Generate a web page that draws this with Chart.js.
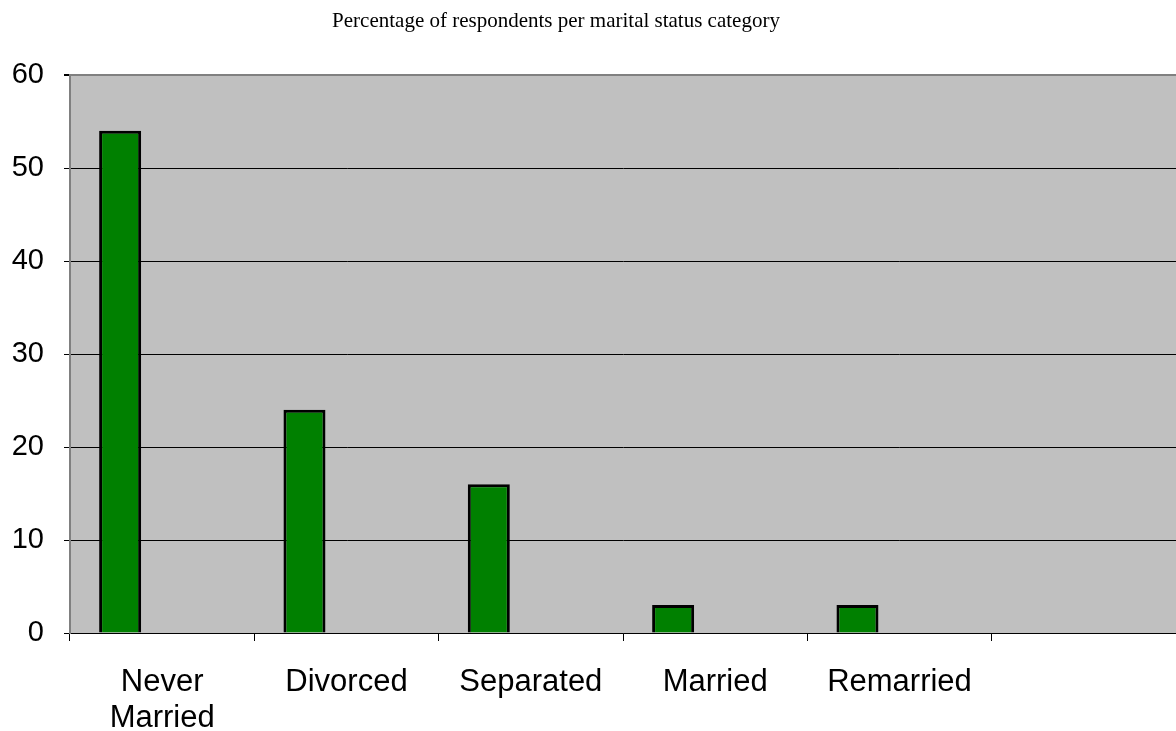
<!DOCTYPE html>
<html>
<head>
<meta charset="utf-8">
<script src="https://cdn.jsdelivr.net/npm/chart.js@4"></script>
<style>
  html, body { margin: 0; padding: 0; background: #fff; }
</style>
</head>
<body>
<canvas id="maritalChart" width="1176" height="731"></canvas>
<script>
// data
const chartTitle = 'Percentage of respondents per marital status category';
const categories = [['Never', 'Married'], 'Divorced', 'Separated', 'Married', 'Remarried', ''];
const percentValues = [54, 24, 16, 3, 3, null];
const yTicks = [0, 10, 20, 30, 40, 50, 60];

// grey plot area like the old spreadsheet chart
const plotBackground = {
    id: 'plotBackground',
    beforeDraw(chart) {
        const a = chart.chartArea;
        const c = chart.ctx;
        c.save();
        c.fillStyle = '#c0c0c0';
        c.fillRect(a.left, a.top, a.right - a.left, a.bottom - a.top);
        c.restore();
    }
};

// the title sits a bit left of the middle in the original
const offsetTitle = {
    id: 'offsetTitle',
    afterDraw(chart) {
        const c = chart.ctx;
        c.save();
        c.font = '21px "Liberation Serif"';
        c.fillStyle = '#000';
        c.textAlign = 'center';
        c.textBaseline = 'alphabetic';
        c.fillText(chartTitle, 556, 27);
        c.restore();
    }
};

const ctx = document.getElementById('maritalChart').getContext('2d');
new Chart(ctx, {
    type: 'bar',
    data: {
        labels: categories,
        datasets: [
            {
                label: 'Percentage',
                data: percentValues,
                backgroundColor: '#008000',
                borderColor: '#000',
                borderWidth: 3,
                borderSkipped: 'bottom'
            },
            // two empty series keep the bars on the left of each slot
            { label: '', data: [], backgroundColor: 'transparent' },
            { label: '', data: [], backgroundColor: 'transparent' }
        ]
    },
    options: {
        responsive: false,
        animation: false,
        categoryPercentage: 0.684,
        barPercentage: 1,
        layout: { padding: { top: 75, left: 0, right: 0, bottom: 0 } },
        plugins: {
            legend: { display: false },
            tooltip: { enabled: false },
            title: { display: false }
        },
        scales: {
            x: {
                grid: {
                    display: true,
                    drawOnChartArea: false,
                    offset: true,
                    tickLength: 8,
                    tickColor: '#000'
                },
                border: { color: '#000', width: 1 },
                ticks: {
                    color: '#000',
                    padding: 24,
                    maxRotation: 0,
                    autoSkip: false,
                    font: { family: 'Liberation Sans', size: 31, lineHeight: 1.15 }
                },
                afterFit(scale) { scale.height = 98; }
            },
            y: {
                min: 0,
                max: 60,
                afterBuildTicks(scale) {
                    scale.ticks = yTicks.map(v => ({ value: v }));
                },
                grid: {
                    tickLength: 6,
                    color: c => c.tick && c.tick.value === 60 ? '#808080' : '#000',
                    lineWidth: c => c.tick && c.tick.value === 60 ? 2 : 1,
                    tickColor: '#000'
                },
                border: { color: '#808080', width: 2 },
                ticks: {
                    color: '#000',
                    padding: 20,
                    font: { family: 'Liberation Sans', size: 29 }
                },
                afterFit(scale) { scale.width = 70; }
            }
        }
    },
    plugins: [plotBackground, offsetTitle]
});
</script>
</body>
</html>
